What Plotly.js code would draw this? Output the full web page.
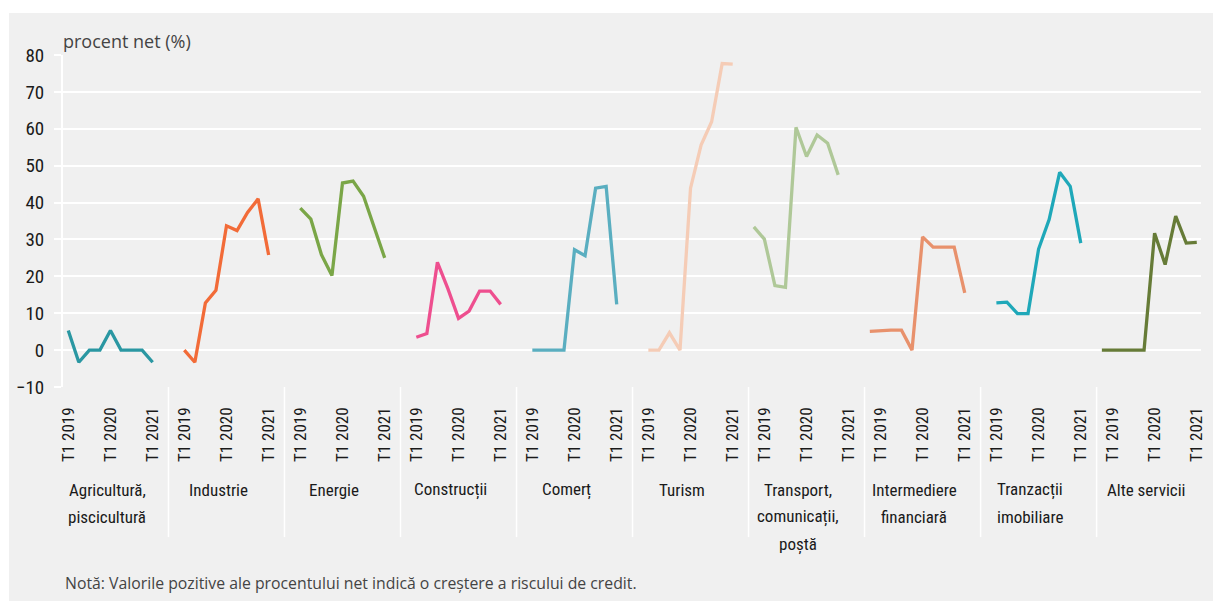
<!DOCTYPE html>
<html>
<head>
<meta charset="utf-8">
<script src="https://cdn.plot.ly/plotly-3.0.1.min.js"></script>
<style>
  body { margin: 0; background: #ffffff; }
  #chart { position: absolute; left: 9px; top: 13px; width: 1204px; height: 588px; }
</style>
</head>
<body>
<div id="chart"></div>
<script>
//Data
//quarters of each sector block (index 1 = T1 2019, index 9 = T1 2021)
let quarters = ['T4 2018', 'T1 2019', 'T2 2019', 'T3 2019', 'T4 2019', 'T1 2020', 'T2 2020', 'T3 2020', 'T4 2020', 'T1 2021'];
let tickQuarters = ['T1 2019', 'T1 2020', 'T1 2021'];

let sectors = ['Agricultură,<br>piscicultură', 'Industrie', 'Energie', 'Construcții', 'Comerț',
    'Turism', 'Transport,<br>comunicații,<br>poștă', 'Intermediere<br>financiară', 'Tranzacții<br>imobiliare', 'Alte servicii'];

let agricultura  = [null, 5.3, -3.3, 0, 0, 5.3, 0, 0, 0, -3.3];
let industrie    = [null, 0, -3.3, 12.8, 16.2, 33.7, 32.4, 37.3, 41.0, 25.8];
let energie      = [null, 38.5, 35.5, 25.9, 20.2, 45.3, 45.8, 41.7, 33.5, 25.0];
let constructii  = [null, 3.5, 4.5, 23.8, 16.6, 8.6, 10.6, 16.0, 16.0, 12.4];
let comert       = [null, 0, 0, 0, 0, 27.2, 25.6, 43.9, 44.4, 12.4];
let turism       = [null, 0, 0, 4.7, 0, 43.9, 55.6, 61.9, 77.7, 77.5];
let transport    = [33.4, 30.1, 17.5, 17.0, 60.4, 52.5, 58.3, 56.1, 47.5, null];
let intermediere = [5.1, 5.3, 5.4, 5.4, 0, 30.7, 27.9, 27.9, 27.9, 15.5];
let tranzactii   = [null, 12.8, 13.0, 9.9, 9.9, 27.4, 35.4, 48.2, 44.4, 29.0];
let alteServicii = [0, 0, 0, 0, 0, 31.7, 23.2, 36.3, 29.0, 29.2];

let seriesValues = [agricultura, industrie, energie, constructii, comert,
    turism, transport, intermediere, tranzactii, alteServicii];

let colors = ['#2a97a2', '#f26b38', '#7aa647', '#ee4f8f', '#5aaec0',
    '#f5ccb6', '#afc898', '#e8916c', '#1fa8b9', '#667b37'];

//Layout helpers
let blockSize = 11;
let condensed = '"Roboto Condensed", "Liberation Sans Narrow", "DejaVu Sans Condensed", sans-serif';
let plain = '"Open Sans", "Noto Sans", sans-serif';

function slot(k, j) {
    return blockSize * k + j - 1;
};

//centre of the block between two separators (first block starts at the axis)
function blockCentre(k) {
    let left = k === 0 ? -0.5 : slot(k, 0) - 0.5;
    let right = slot(k, quarters.length) - 0.5;
    return (left + right) / 2 - 0.3;
};

let traces = [];
let tickvals = [];
let ticktext = [];
let shapes = [];
let annotations = [];

for (let k = 0; k < sectors.length; k++) {
    let x = [];
    for (let j = 0; j < quarters.length; j++) {
        x.push(slot(k, j));
    };
    traces.push({
        type: 'scatter',
        mode: 'lines',
        x: x,
        y: seriesValues[k],
        name: sectors[k],
        connectgaps: false,
        line: {color: colors[k], width: 3.3},
        hoverinfo: 'y'
    });

    tickQuarters.forEach(function(q) {
        tickvals.push(slot(k, quarters.indexOf(q)));
        ticktext.push(q);
    });

    if (k > 0) {
        shapes.push({
            type: 'line', xref: 'x', yref: 'paper',
            x0: slot(k, 0) - 0.5, x1: slot(k, 0) - 0.5,
            y0: 0, y1: -0.452,
            line: {color: '#ffffff', width: 1.5}
        });
    };

    //one annotation per text line so the line spacing can be set
    let lines = sectors[k].split('<br>');
    for (let n = 0; n < lines.length; n++) {
        annotations.push({
            xref: 'x', yref: 'paper',
            x: blockCentre(k), y: -0.31 - n * 0.0815,
            text: lines[n],
            showarrow: false,
            xanchor: 'center', yanchor: 'middle',
            font: {family: condensed, size: 17, color: '#1a1a1a'}
        });
    };
};

annotations.push({
    xref: 'paper', yref: 'paper',
    x: 0, y: -0.59,
    text: 'Notă: Valorile pozitive ale procentului net indică o creștere a riscului de credit.',
    showarrow: false,
    xanchor: 'left', yanchor: 'middle',
    font: {family: plain, size: 15.8, color: '#444444'}
});

let layout = {
    width: 1204,
    height: 588,
    margin: {l: 54, r: 12, t: 42, b: 214},
    paper_bgcolor: '#f0f0f0',
    plot_bgcolor: '#f0f0f0',
    showlegend: false,
    title: {
        text: 'procent net (%)',
        x: 0, xref: 'paper', xanchor: 'left',
        y: 0.951, yref: 'container', yanchor: 'middle',
        font: {family: plain, size: 18, color: '#444444'}
    },
    xaxis: {
        range: [-0.5, 107.4],
        showgrid: false,
        zeroline: false,
        showline: false,
        ticks: '',
        tickvals: tickvals,
        ticktext: ticktext,
        tickangle: -90,
        ticklabelstandoff: 16,
        tickfont: {family: condensed, size: 17, color: '#1a1a1a'}
    },
    yaxis: {
        range: [-10, 80],
        dtick: 10,
        showgrid: true,
        gridcolor: '#ffffff',
        gridwidth: 2,
        zeroline: false,
        showline: true,
        linecolor: '#ffffff',
        linewidth: 2,
        ticks: 'outside',
        ticklen: 7,
        tickwidth: 2,
        tickcolor: '#ffffff',
        ticklabelstandoff: 6,
        tickfont: {family: condensed, size: 19, color: '#1a1a1a'}
    },
    shapes: shapes,
    annotations: annotations
};

Plotly.newPlot('chart', traces, layout, {displayModeBar: false, responsive: false});
</script>
</body>
</html>
